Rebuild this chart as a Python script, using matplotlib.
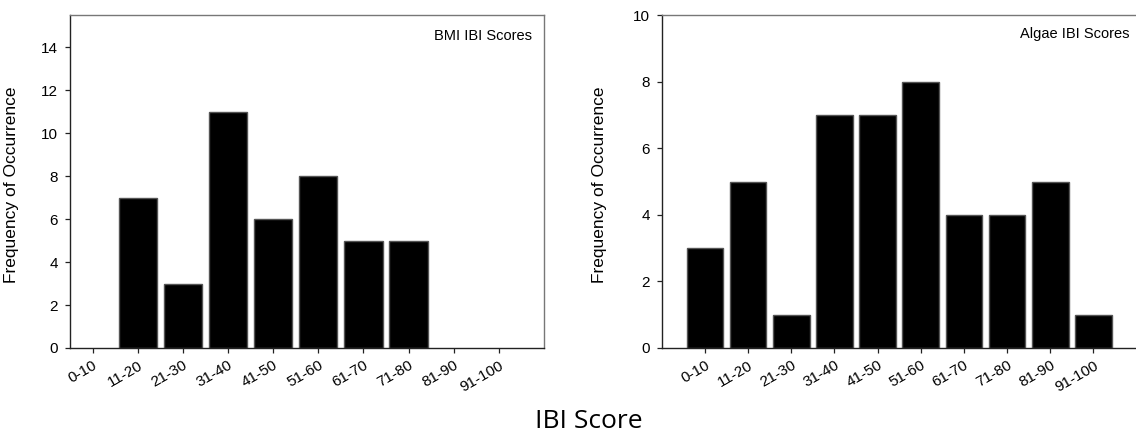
import numpy as np
import matplotlib
matplotlib.use("Agg")
import matplotlib.pyplot as plt

# Score classes and counts
categories = ["0-10", "11-20", "21-30", "31-40", "41-50",
              "51-60", "61-70", "71-80", "81-90", "91-100"]
bmi_counts = [0, 7, 3, 11, 6, 8, 5, 5, 0, 0]
algae_counts = [3, 5, 1, 7, 7, 8, 4, 4, 5, 1]

plt.rcParams['font.family'] = ['Liberation Sans', 'DejaVu Sans']

fig = plt.figure(figsize=(11.36, 4.38), dpi=100)
ax1 = fig.add_axes([0.0616, 0.2055, 0.4173, 0.760])
ax2 = fig.add_axes([0.5825, 0.2055, 0.4180, 0.760])


def style_axis(ax, counts, ylim, yticks, xlim, title, title_x, title_y, ylab_x):
    x = np.arange(len(categories))
    counts = np.array(counts)
    keep = counts > 0  # empty classes get no outline at all
    ax.bar(x[keep], counts[keep], width=0.85, color='black',
           edgecolor='#555555', linewidth=1.0)
    ax.set_xlim(*xlim)
    ax.set_ylim(*ylim)
    ax.set_yticks(yticks)
    ax.set_xticks(x)
    ax.set_xticklabels(categories, rotation=30, ha='right', va='top',
                       rotation_mode='anchor', fontsize=11)
    ax.tick_params(axis='both', direction='out', length=3.5, width=0.9,
                   color='#222222', labelsize=11)
    ax.tick_params(axis='y', pad=5)
    ax.tick_params(axis='x', pad=4)
    for s in ['left', 'bottom']:
        ax.spines[s].set_color('#222222')
        ax.spines[s].set_linewidth(1.0)
    for s in ['top', 'right']:
        ax.spines[s].set_color('#777777')
        ax.spines[s].set_linewidth(1.0)
    ax.set_ylabel("Frequency of Occurrence", fontsize=12.5)
    ax.yaxis.set_label_coords(ylab_x, 0.49)
    ax.text(title_x, title_y, title, transform=ax.transAxes,
            ha='right', va='top', fontsize=10.5)


style_axis(ax1, bmi_counts, (0, 15.5), np.arange(0, 15, 2), (-0.5, 10.0),
           "BMI IBI Scores", 0.974, 0.957, -0.108)
style_axis(ax2, algae_counts, (0, 10), np.arange(0, 11, 2), (-1.0, 10.0),
           "Algae IBI Scores", 0.985, 0.963, -0.115)
ax2.spines['right'].set_visible(False)

fig.text(589 / 1136, 1 - 422 / 438, "IBI Score", ha='center', va='center',
         fontsize=19, family=['Open Sans', 'DejaVu Sans'])

fig.savefig("out.png", dpi=100)
